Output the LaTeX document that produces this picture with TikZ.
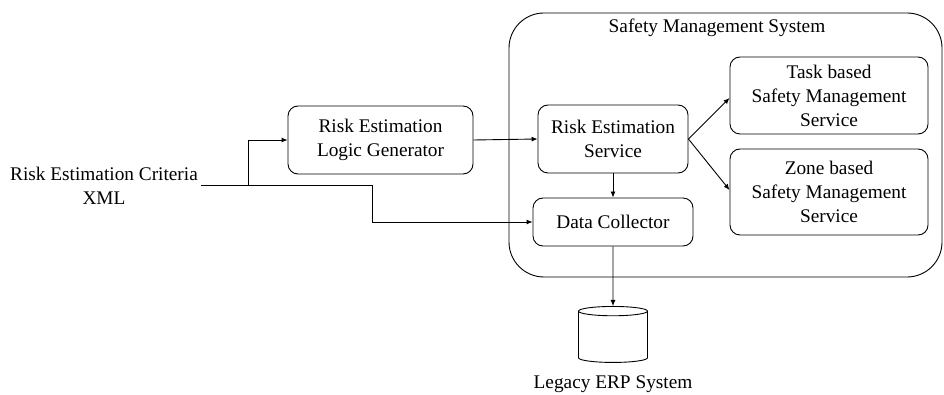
\documentclass[tikz,border=0pt]{standalone}
\usepackage{fontspec}
\setmainfont{Liberation Serif}
\usetikzlibrary{arrows.meta,shapes.geometric,positioning}

\tikzset{
  box/.style={draw, rounded corners=10, align=center, line width=0.9pt},
  arr/.style={-{Latex[length=6pt,width=5pt]}, line width=0.9pt},
}

\begin{document}
\begin{tikzpicture}[x=1pt,y=-1pt,font=\fontsize{19.3}{24}\selectfont]
      \useasboundingbox (0,0) rectangle (944,395);
      % container
      \node[draw, rounded corners=35, line width=0.9pt, minimum width=433, minimum height=264] (sms) at (725.5,145) {};
      \node (smstitle) at (717,28) {Safety Management System};
      % boxes
      \node[box, minimum width=185, minimum height=68] (gen) at (380.5,140) {Risk Estimation\\Logic Generator};
      \node[box, minimum width=150, minimum height=68] (res) at (613,139) {Risk Estimation\\Service};
      \node[box, minimum width=160, minimum height=48] (dc) at (613,222) {Data Collector};
      \node[box, minimum width=198, minimum height=77] (task) at (829,95.5) {Task based\\Safety Management\\Service};
      \node[box, minimum width=198, minimum height=86] (zone) at (829,192) {Zone based\\Safety Management\\Service};
      \node[draw, cylinder, shape border rotate=90, aspect=1.4, line width=0.9pt,
            minimum width=69, minimum height=56] (erp) at (613,338) {};
      \node (erplabel) at (613,384) {Legacy ERP System};
      \node[align=center] (xml) at (104,185.5) {Risk Estimation Criteria\\XML};
      \coordinate (split) at (248,185.5);
      \coordinate (bend) at (372,185.5);
      % connectors
      \draw[arr] (xml.east) -- (split) |- (gen.west);
      \draw[arr] (split) -- (bend) |- (dc.west);
      \draw[arr] (gen.east) -- (res.west);
      \draw[arr] (res.south) -- (dc.north);
      \draw[arr] (res.east) -- (task.west |- 0,98);
      \draw[arr] (res.east) -- (zone.west |- 0,190);
      \draw[arr] (dc.south) -- (erp.north);
    \end{tikzpicture}
\end{document}
